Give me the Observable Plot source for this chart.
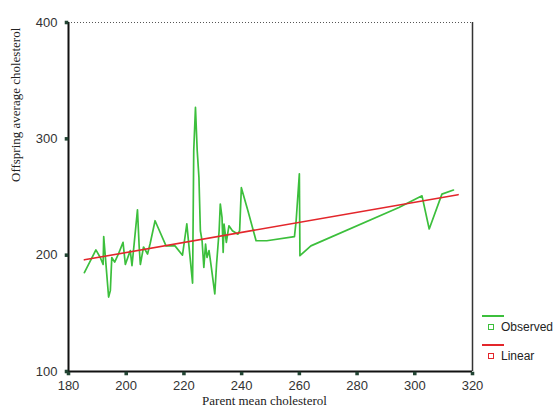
<!DOCTYPE html>
<html>
<head>
<meta charset="utf-8">
<script src="https://cdn.jsdelivr.net/npm/d3@7"></script>
<script src="https://cdn.jsdelivr.net/npm/@observablehq/plot@0.6"></script>
<style>
  html, body { margin: 0; padding: 0; background: #fff; }
  #wrap { position: relative; width: 560px; height: 410px; }
  .leg { position: absolute; font-family: "Liberation Sans", Arial, sans-serif; font-size: 12px; color: #222; }
  .legline { position: absolute; height: 2px; width: 22px; }
  .legbox { position: absolute; width: 4px; height: 4px; border: 1.5px solid; }
</style>
</head>
<body>
<div id="wrap"></div>
<script>
// Observed: offspring average cholesterol by parent mean cholesterol
const observedX = [185.5, 189.5, 191, 192, 192.2, 193.9, 194.5, 195, 196, 197.3, 198.9, 199.7, 201.4, 202, 202.8, 203.9, 204.5, 204.9, 206, 207.4, 208.3, 210, 213.8, 216.9, 219.5, 221, 221.5, 223, 223.4, 224, 224.6, 225.2, 225.7, 226.3, 226.9, 227.5, 228, 228.7, 229.5, 230.7, 231.3, 232.2, 232.6, 233.2, 233.6, 233.9, 234.7, 235.6, 236.8, 238.7, 239.3, 239.9, 242.2, 245, 248.7, 258.3, 258.9, 260, 260.2, 264, 294.5, 302.5, 305, 309.4, 313.4];
const observedY = [185, 204.5, 198, 192, 216, 164, 169.5, 198, 194, 201, 211, 192, 204, 191, 211, 239, 207, 192, 207, 201, 210, 229.6, 208, 208, 200, 227, 214, 176, 290, 327, 290, 267, 221, 212, 189.5, 209.6, 198, 204, 189.5, 166.7, 192, 221, 244, 232.5, 202.4, 226.8, 211, 225.3, 221, 218, 221, 258, 238, 212.4, 212.4, 216, 230, 270, 199.6, 208, 241, 251, 222.5, 252.5, 256];
// Linear fit (endpoints)
const linearX = [185.5, 315];
const linearY = [196, 252];
// Ticks
const xTicks = [180, 200, 220, 240, 260, 280, 300, 320];
const yTicks = [100, 200, 300, 400];
const xTitle = "Parent mean cholesterol";
const yTitle = "Offspring average cholesterol";

const observed = observedX.map((x, i) => ({x, y: observedY[i]}));
const linear = linearX.map((x, i) => ({x, y: linearY[i]}));

const green = "#3cbf3c";
const red = "#e3262b";

const chart = Plot.plot({
  width: 560,
  height: 410,
  marginLeft: 68,
  marginRight: 88,
  marginTop: 22,
  marginBottom: 39,
  style: {background: "#fff", fontFamily: "Liberation Sans, Arial, sans-serif"},
  x: {domain: [180, 320]},
  y: {domain: [100, 400]},
  marks: [
    Plot.ruleY([400], {stroke: "#555", strokeDasharray: "1,2", strokeWidth: 1}),
    Plot.ruleX([320], {stroke: "#333", strokeWidth: 1.5}),
    Plot.line(observed, {x: "x", y: "y", stroke: green, strokeWidth: 1.7}),
    Plot.line(linear, {x: "x", y: "y", stroke: red, strokeWidth: 1.6}),
    Plot.ruleX([180], {stroke: "#111", strokeWidth: 2}),
    Plot.ruleY([100], {stroke: "#111", strokeWidth: 2}),
    Plot.dot(yTicks, {x: 180, y: d => d, symbol: "square", r: 2, fill: "#243", stroke: "none", dx: -2}),
    Plot.dot(xTicks, {x: d => d, y: 100, symbol: "square", r: 2, fill: "#243", stroke: "none", dy: 2}),
    Plot.axisY(yTicks, {tickSize: 0, tickPadding: 11, fontSize: 13, fill: "#333", label: null}),
    Plot.axisX(xTicks, {tickSize: 0, tickPadding: 9, fontSize: 13, fill: "#333", label: null}),
    Plot.text([yTitle], {text: d => d, frameAnchor: "left", rotate: -90, dx: -53, dy: -15, fontFamily: "Liberation Serif, serif", fontSize: 13, fill: "#222"}),
    Plot.text([xTitle], {text: d => d, frameAnchor: "bottom", dy: 33, dx: -6, fontFamily: "Liberation Serif, serif", fontSize: 13, fill: "#222"})
  ]
});
const wrap = document.getElementById("wrap");
wrap.appendChild(chart);

function add(html) { wrap.insertAdjacentHTML("beforeend", html); }
add(`<div class="legline" style="left:482px;top:315px;background:${green}"></div>`);
add(`<div class="legbox" style="left:488px;top:324px;border-color:${green}"></div>`);
add(`<div class="leg" style="left:501px;top:320px">Observed</div>`);
add(`<div class="legline" style="left:482px;top:344px;background:${red}"></div>`);
add(`<div class="legbox" style="left:488px;top:353px;border-color:${red}"></div>`);
add(`<div class="leg" style="left:501px;top:349px">Linear</div>`);
</script>
</body>
</html>
